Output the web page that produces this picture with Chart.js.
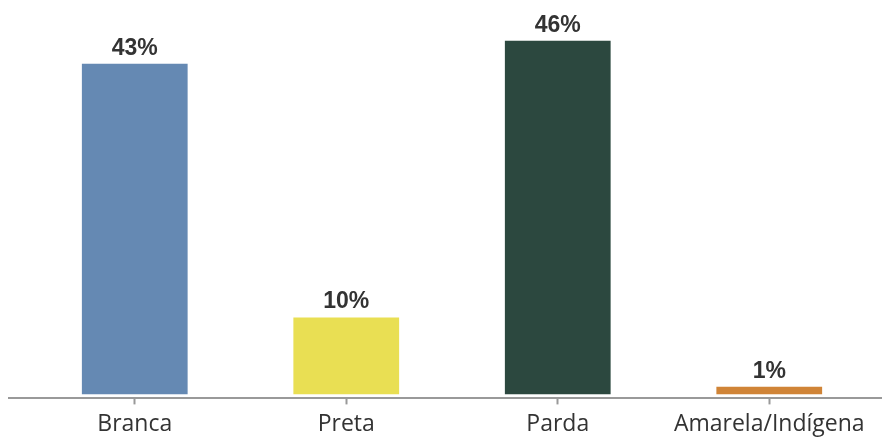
<!DOCTYPE html>
<html>
<head>
<meta charset="utf-8">
<script src="https://cdn.jsdelivr.net/npm/chart.js@4"></script>
<style>
    html, body { margin: 0; padding: 0; background: #fff; }
    #wrap { width: 882px; height: 438px; position: relative; }
</style>
</head>
<body>
<div id="wrap"><canvas id="racaChart"></canvas></div>
<script>
const categorias = ['Branca', 'Preta', 'Parda', 'Amarela/Indígena'];
const percentuais = [43, 10, 46, 1];
const cores = ['#6589b3', '#e9df53', '#2c483f', '#d08437'];

// rótulos de valor em cima das barras
const rotulosPlugin = {
    id: 'rotulos',
    afterDatasetsDraw(chart) {
        const ctx = chart.ctx;
        const meta = chart.getDatasetMeta(0);
        ctx.save();
        ctx.font = 'bold 23px "Liberation Sans", Arial, sans-serif';
        ctx.fillStyle = '#333333';
        ctx.textAlign = 'center';
        ctx.textBaseline = 'alphabetic';
        meta.data.forEach(function (bar, i) {
            ctx.fillText(percentuais[i] + '%', bar.x, bar.y - 9);
        });
        ctx.restore();
    }
};

// linha do eixo x, mais larga que a área do gráfico
const eixoPlugin = {
    id: 'eixo',
    afterDraw(chart) {
        const ctx = chart.ctx;
        const y = chart.chartArea.bottom + 0.5;
        ctx.save();
        ctx.strokeStyle = '#999999';
        ctx.lineWidth = 2;
        ctx.beginPath();
        ctx.moveTo(8, y);
        ctx.lineTo(882, y);
        ctx.stroke();
        ctx.restore();
    }
};

new Chart(document.getElementById('racaChart').getContext('2d'), {
    type: 'bar',
    data: {
        labels: categorias,
        datasets: [{
            data: percentuais,
            backgroundColor: cores,
            borderWidth: 0,
            barPercentage: 0.5,
            categoryPercentage: 1.0
        }]
    },
    options: {
        responsive: true,
        maintainAspectRatio: false,
        animation: false,
        layout: { padding: { left: 29, right: 7, top: 10, bottom: -6 } },
        plugins: {
            legend: { display: false },
            tooltip: { enabled: false }
        },
        scales: {
            y: {
                display: false,
                min: -0.4,
                max: 50
            },
            x: {
                border: { display: false },
                grid: {
                    offset: false,
                    drawOnChartArea: false,
                    drawTicks: true,
                    tickLength: 7,
                    tickWidth: 2,
                    color: '#999999'
                },
                ticks: {
                    padding: 6,
                    color: '#333333',
                    font: { family: '"Open Sans", sans-serif', size: 23 }
                }
            }
        }
    },
    plugins: [rotulosPlugin, eixoPlugin]
});
</script>
</body>
</html>
